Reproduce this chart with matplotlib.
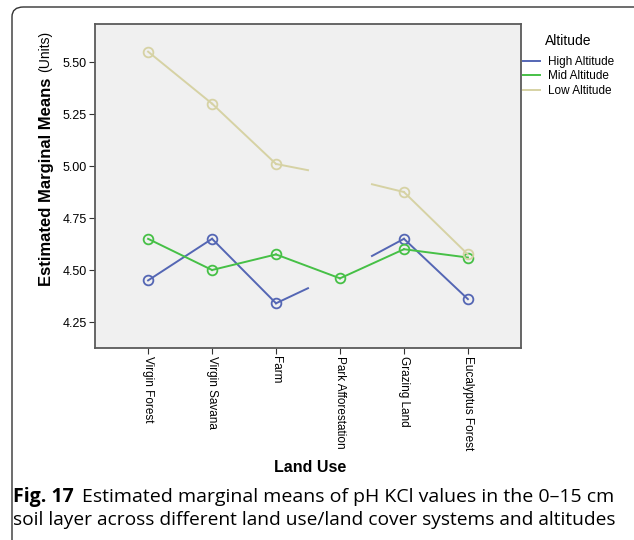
import matplotlib.pyplot as plt
from matplotlib.lines import Line2D
from matplotlib.patches import FancyBboxPatch

# estimated marginal means, pH KCl, 0-15 cm layer
land_use = ['Virgin Forest', 'Virgin Savana', 'Farm', 'Park Afforestation',
            'Grazing Land', 'Eucalyptus Forest']
high_alt = [4.45, 4.65, 4.34, 4.485, 4.65, 4.36]
mid_alt = [4.65, 4.50, 4.575, 4.46, 4.60, 4.56]
low_alt = [5.55, 5.30, 5.01, 4.95, 4.875, 4.575]
# park afforestation is not estimable at high and low altitude
high_ok = [True, True, True, False, True, True]
mid_ok = [True, True, True, True, True, True]
low_ok = [True, True, True, False, True, True]
series_names = ['High Altitude', 'Mid Altitude', 'Low Altitude']
colors = ['#5466b4', '#46c046', '#d6d2a4']
y_ticks = [4.25, 4.50, 4.75, 5.00, 5.25, 5.50]

W, H = 634, 540
fig = plt.figure(figsize=(W / 100, H / 100), dpi=100)
plt.rcParams['font.family'] = ['Liberation Sans', 'DejaVu Sans']


def px(x0, y0, w, h):
    return [x0 / W, 1 - (y0 + h) / H, w / W, h / H]


# rounded frame around figure + caption
frame = FancyBboxPatch((12 / W, -20 / H), (W + 20) / W, (H - 7 + 20) / H,
                       boxstyle='round,pad=0,rounding_size=0.018',
                       transform=fig.transFigure, fill=False,
                       edgecolor='#333333', linewidth=1.0)
fig.patches.append(frame)

ax = fig.add_axes(px(95, 24, 426, 324))
ax.set_facecolor('#f0f0f0')
for s in ax.spines.values():
    s.set_color('#5a5a5a')
    s.set_linewidth(1.3)

x = list(range(len(land_use)))
for vals, ok, c in zip([high_alt, mid_alt, low_alt], [high_ok, mid_ok, low_ok], colors):
    for i in range(len(x) - 1):
        if ok[i] and ok[i + 1]:
            ax.plot([x[i], x[i + 1]], [vals[i], vals[i + 1]], color=c, lw=1.4)
        elif ok[i]:
            ax.plot([x[i], x[i] + 0.5], [vals[i], (vals[i] + vals[i + 1]) / 2],
                    color=c, lw=1.4)
        elif ok[i + 1]:
            ax.plot([x[i + 1] - 0.5, x[i + 1]], [(vals[i] + vals[i + 1]) / 2, vals[i + 1]],
                    color=c, lw=1.4)
    xs = [xi for xi, o in zip(x, ok) if o]
    ys = [v for v, o in zip(vals, ok) if o]
    ax.plot(xs, ys, 'o', ms=7, mfc='none', mec=c, mew=1.3)

ax.set_xlim(-0.83, 5.83)
ax.set_ylim(4.125, 5.683)
ax.set_yticks(y_ticks)
ax.set_yticklabels([f'{v:.2f}' for v in y_ticks], fontsize=9)
ax.set_xticks(x)
ax.set_xticklabels(land_use, fontsize=8.5, rotation=270, va='top', ha='center')
ax.tick_params(axis='both', color='#333333', length=4, width=0.8, pad=2)

ax.text(310 / W, (540 - 467) / 540, 'Land Use', transform=fig.transFigure,
        fontsize=11.5, fontweight='bold', ha='center', va='center')

# y label: bold part then units in regular weight
renderer = fig.canvas.get_renderer()
yl = fig.text(47 / W, 1 - 286 / H, 'Estimated Marginal Means', rotation=90,
              fontsize=12, fontweight='bold', ha='center', va='bottom')
bb = yl.get_window_extent(renderer)
fig.text(45 / W, (bb.y1 + 6) / H, '(Units)', rotation=90, fontsize=10,
         ha='center', va='bottom')

# legend outside the plot area
handles = [Line2D([], [], color=c, lw=1.4) for c in colors]
leg = fig.legend(handles, series_names, title='Altitude', loc='upper left',
                 bbox_to_anchor=(518 / W, 1 - 29 / H), frameon=False,
                 fontsize=8.5, title_fontsize=10, handlelength=1.5,
                 handletextpad=0.6, labelspacing=0.2, borderaxespad=0)
leg._legend_box.sep = 6

# caption
cap1 = fig.text(13 / W, 1 - 497 / H, 'Fig. 17', fontsize=14, fontweight='bold',
                family='Open Sans', va='center')
bb = cap1.get_window_extent(renderer)
fig.text((bb.x1 + 8) / W, 1 - 497 / H,
         'Estimated marginal means of pH KCl values in the 0\u201315 cm',
         fontsize=14, family='Open Sans', va='center')
fig.text(13 / W, 1 - 520 / H,
         'soil layer across different land use/land cover systems and altitudes',
         fontsize=13.8, family='Open Sans', va='center')

fig.savefig('out.png', dpi=100)
